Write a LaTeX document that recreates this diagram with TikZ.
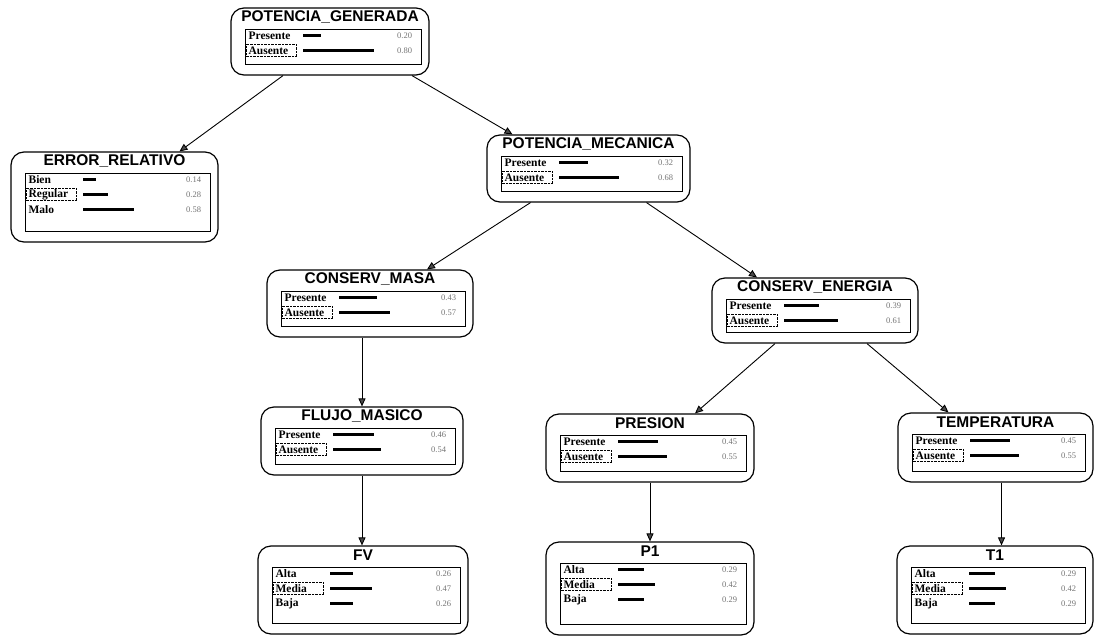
\documentclass[tikz,border=0pt]{standalone}
\usepackage{fontspec}
\setmainfont{Liberation Serif}
\newfontfamily\bntitlefont{Liberation Sans}
\usetikzlibrary{arrows.meta,calc}

\tikzset{
  bnbox/.style={draw,line width=1.2pt,rounded corners=13pt,inner sep=0pt},
  bninner/.style={draw,line width=0.9pt,inner sep=0pt},
  bntitle/.style={font=\bntitlefont\bfseries\fontsize{15.5}{15.5}\selectfont,inner sep=0pt},
  bnlab/.style={font=\bfseries\fontsize{11.5}{11.5}\selectfont,inner sep=0pt,anchor=west},
  bnbar/.style={line width=2.8pt},
  bnval/.style={font=\fontsize{8.5}{8.5}\selectfont,text=black!55,inner sep=0pt,anchor=east},
  bnlink/.style={->,line width=0.9pt},
}

% node of the belief net: name, left, top, right, bottom, title, states
\newcommand{\bnnode}[7]{%
  \node[bnbox,minimum width={(#4)-(#2)},minimum height={(#5)-(#3)}] (#1)
    at ({((#2)+(#4))/2},{((#3)+(#5))/2}) {};
  \node[bntitle] (#1-t) at ([yshift=-10pt]#1.north) {#6};
  \node[bninner,anchor=north west,minimum width={(#4)-(#2)-22},minimum height={(#5)-(#3)-32}]
    (#1-in) at ([xshift=15pt,yshift=-22pt]#1.north west) {};
  \foreach \lab/\val [count=\i] in {#7} {
    \coordinate (#1-r\i) at ($(#1-in.north west)+(3,{6+15*(\i-1)})$);
    \node[bnlab] at (#1-r\i) {\lab};
    \ifnum\i=2
      \draw[densely dotted,line width=0.4pt] ($(#1-r\i)+(-2,-6)$) rectangle ($(#1-r\i)+(48,6)$);
    \fi
    \draw[bnbar] ($(#1-r\i)+(55,0)$) -- ++({\val*88},0);
    \node[bnval] at ($(#1-in.east |- #1-r\i)+(-10,0)$) {\val};
  }
}

\begin{document}
\begin{tikzpicture}[x=1pt,y=-1pt,>={Triangle[length=8pt,width=7pt,fill=black!70]}]
  \useasboundingbox (0,0) rectangle (1097,637);

  \bnnode{pg}{231}{8}{429}{75}{POTENCIA\_GENERADA}{Presente/0.20,Ausente/0.80}
  \bnnode{er}{11}{152}{218}{242}{ERROR\_RELATIVO}{Bien/0.14,Regular/0.28,Malo/0.58}
  \bnnode{pm}{487}{135}{690}{202}{POTENCIA\_MECANICA}{Presente/0.32,Ausente/0.68}
  \bnnode{cm}{267}{270}{473}{337}{CONSERV\_MASA}{Presente/0.43,Ausente/0.57}
  \bnnode{ce}{712}{278}{918}{343}{CONSERV\_ENERGIA}{Presente/0.39,Ausente/0.61}
  \bnnode{fm}{261}{407}{463}{475}{FLUJO\_MASICO}{Presente/0.46,Ausente/0.54}
  \bnnode{pr}{546}{414}{754}{482}{PRESION}{Presente/0.45,Ausente/0.55}
  \bnnode{te}{898}{413}{1093}{482}{TEMPERATURA}{Presente/0.45,Ausente/0.55}
  \bnnode{fv}{258}{546}{468}{634}{FV}{Alta/0.26,Media/0.47,Baja/0.26}
  \bnnode{p1}{546}{542}{754}{635}{P1}{Alta/0.29,Media/0.42,Baja/0.29}
  \bnnode{t1}{897}{546}{1093}{634}{T1}{Alta/0.29,Media/0.42,Baja/0.29}

  % links
  \draw[bnlink] ([xshift=-47pt]pg.south) -- ([xshift=65pt]er.north);
  \draw[bnlink] ([xshift=82pt]pg.south) -- ([xshift=-76pt]pm.north);
  \draw[bnlink] ([xshift=-58pt]pm.south) -- ([xshift=57pt]cm.north);
  \draw[bnlink] ([xshift=58pt]pm.south) -- ([xshift=-58pt]ce.north);
  \draw[bnlink] ([xshift=-40pt]ce.south) -- ([xshift=45pt]pr.north);
  \draw[bnlink] ([xshift=52pt]ce.south) -- ([xshift=-47pt]te.north);
  \draw[bnlink] (cm.south -| fm.north) -- (fm.north);
  \draw[bnlink] (fm.south) -- (fm.south |- fv.north);
  \draw[bnlink] (pr.south) -- (pr.south |- p1.north);
  \coordinate (te-out) at ([xshift=6pt]te.south);
  \draw[bnlink] (te-out) -- (te-out |- t1.north);
\end{tikzpicture}
\end{document}
